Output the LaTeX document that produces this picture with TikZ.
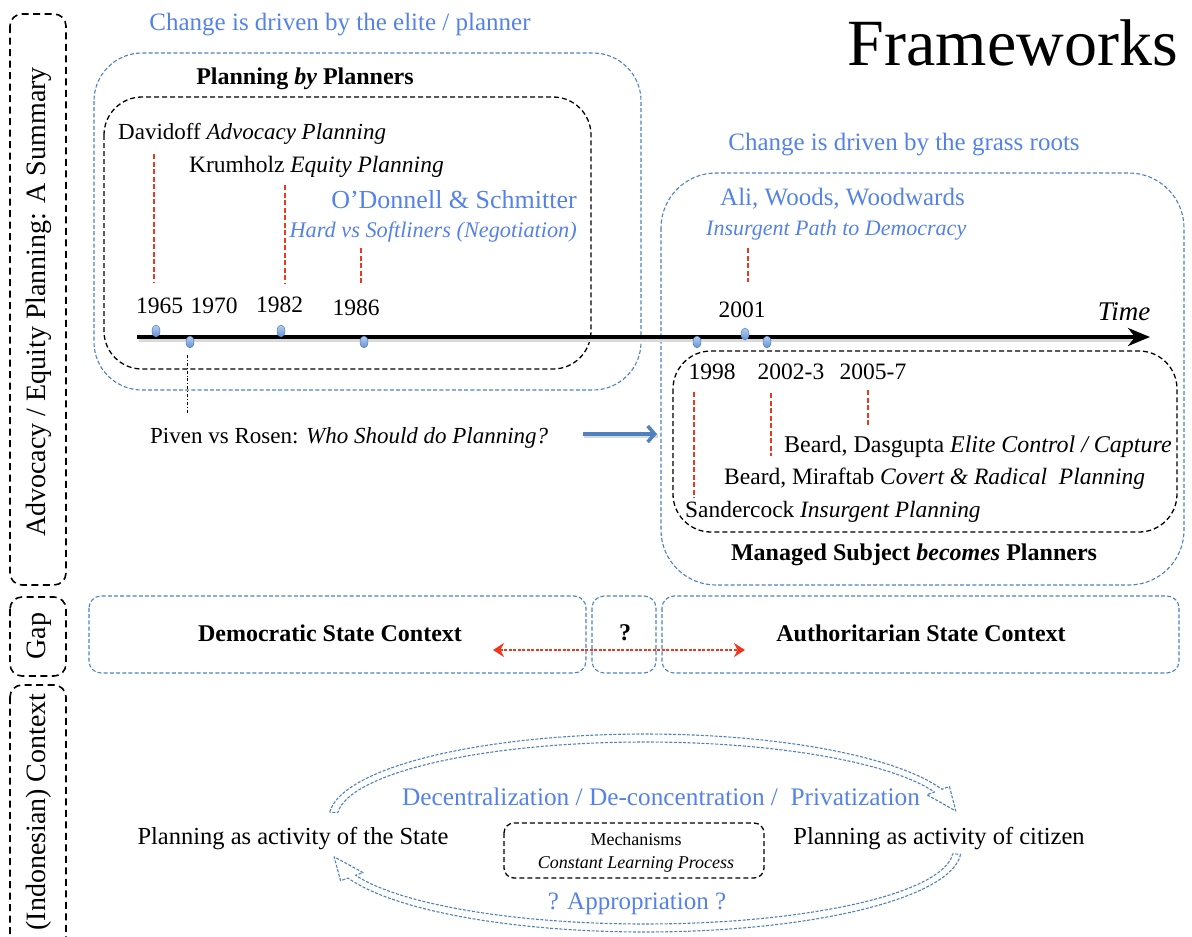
\documentclass[tikz,border=0pt]{standalone}
\usepackage{fontspec}
\setmainfont{Liberation Serif}
\usetikzlibrary{arrows.meta,shapes.geometric}

\definecolor{txtblue}{RGB}{84,130,232}
\definecolor{boxblue}{RGB}{79,129,189}
\definecolor{dotblue}{RGB}{100,145,215}
\definecolor{tickred}{RGB}{240,55,30}

\newcommand\fsz[1]{\fontsize{#1}{#1}\selectfont}

% hollow dashed arrow running along an elliptic arc
% #1,#2 centre  #3,#4 radii  #5 start angle  #6 end angle  #7 tip angle
% #8 half shaft width  #9 half head width
\newcommand\hollowarc[9]{%
  \draw[flowarrow]
    plot[domain=#5:#6, samples=70, variable=\t]
      ({#1+(#3+#8)*cos(\t)},{#2-(#4+#8)*sin(\t)})
    -- ({#1+(#3+#9)*cos(#6)},{#2-(#4+#9)*sin(#6)})
    -- ({#1+#3*cos(#7)},{#2-#4*sin(#7)})
    -- ({#1+(#3-#9)*cos(#6)},{#2-(#4-#9)*sin(#6)})
    -- plot[domain=#6:#5, samples=70, variable=\t]
      ({#1+(#3-#8)*cos(\t)},{#2-(#4-#8)*sin(\t)})
    -- cycle;}

\tikzset{
  txt/.style={inner sep=0pt, font=\fsz{23}},
  bluetxt/.style={inner sep=0pt, text=txtblue, font=\fsz{25}},
  bluebox/.style={draw=boxblue, line width=1.1pt, dash pattern=on 4pt off 2.2pt},
  blackbox/.style={draw=black, line width=1.3pt, dash pattern=on 5pt off 3pt},
  sidebox/.style={draw=black, line width=1.6pt, dash pattern=on 7pt off 4.5pt, rounded corners=12pt},
  sidelabel/.style={inner sep=0pt, rotate=90, font=\fsz{28}},
  redtick/.style={draw=tickred, line width=1.3pt, dash pattern=on 5pt off 2.5pt},
  yeardot/.style={ellipse, inner sep=0pt, minimum width=8pt, minimum height=12pt,
    draw=boxblue, line width=0.5pt, top color=dotblue!45!white, bottom color=dotblue},
  flowarrow/.style={draw=boxblue, line width=1.1pt, dash pattern=on 3pt off 1.6pt, line join=round},
  yeartxt/.style={inner sep=0pt, font=\fsz{23.5}},
}

\begin{document}
\begin{tikzpicture}[x=1pt,y=-1pt]
\useasboundingbox (0,0) rectangle (1192,937);

% ---------- side labels ----------
\draw[sidebox] (10,14) rectangle (66,585);
\node[sidelabel] (lblA) at (39,302) {Advocacy / Equity Planning: A Summary};
\draw[sidebox] (10,597) rectangle (66,676);
\node[sidelabel] (lblG) at (39,636) {Gap};
\begin{scope}
  \clip (0,0) rectangle (1192,937);
  \draw[sidebox] (10,685) rectangle (66,970);
\end{scope}
\node[sidelabel] (lblC) at (39,812) {(Indonesian) Context};

% ---------- title ----------
\node[inner sep=0pt, anchor=east, font=\fsz{66}] (title) at (1178,43) {Frameworks};

% ---------- planning by planners ----------
\node[bluetxt] (elite) at (340,25) {Change is driven by the elite / planner};
\draw[bluebox, rounded corners=48pt] (94,53) rectangle (641,390);
\draw[blackbox, rounded corners=38pt] (104,97) rectangle (591,369);
\node[txt, font=\fsz{24}\bfseries] (pbp) at (305,79) {Planning \textit{by} Planners};
\node[txt, anchor=west] (davidoff) at (118,134) {Davidoff \textit{Advocacy Planning}};
\node[txt, anchor=west, font=\fsz{23.5}] (krumholz) at (189,167) {Krumholz \textit{Equity Planning}};
\node[bluetxt, anchor=east, font=\fsz{26}] (odonnell) at (577,200) {O’Donnell \& Schmitter};
\node[bluetxt, anchor=east, font=\fsz{22.3}\itshape] (hardsoft) at (577,232) {Hard vs Softliners (Negotiation)};

\node[yeartxt] (y65) at (159.5,306) {1965};
\node[yeartxt] (y70) at (214,306) {1970};
\node[yeartxt] (y82) at (279.5,305) {1982};
\node[yeartxt] (y86) at (356,308) {1986};

% ---------- grass roots ----------
\node[bluetxt] (grass) at (904,145) {Change is driven by the grass roots};
\draw[bluebox, rounded corners=55pt] (661,173) rectangle (1184,585);
\node[bluetxt, anchor=west] (ali) at (720,199) {Ali, Woods, Woodwards};
\node[bluetxt, anchor=west, font=\fsz{22}\itshape] (ipd) at (706,230) {Insurgent Path to Democracy};
\node[yeartxt] (y01) at (742,310) {2001};
\node[inner sep=0pt, font=\fsz{27}\itshape] (time) at (1124,312) {Time};

\draw[blackbox, rounded corners=38pt] (673,351) rectangle (1177,532);
\node[yeartxt] (y98) at (712,372) {1998};
\node[yeartxt] (y02) at (791,372) {2002-3};
\node[yeartxt] (y05) at (873,372) {2005-7};
\node[txt, anchor=west, font=\fsz{24}] (dasgupta) at (784,447) {Beard, Dasgupta \textit{Elite Control / Capture}};
\node[txt, anchor=west, font=\fsz{23.5}] (miraftab) at (724,479) {Beard, Miraftab \textit{Covert \& Radical\ \ Planning}};
\node[txt, anchor=west, font=\fsz{23.4}] (sandercock) at (685,512) {Sandercock \textit{Insurgent Planning}};
\node[txt, font=\fsz{24}\bfseries] (managed) at (914,555) {Managed Subject \textit{becomes} Planners};

% ---------- red ticks ----------
\coordinate (r65a) at (154,154);  \coordinate (r65b) at (154,283);
\coordinate (r82a) at (285,185);  \coordinate (r82b) at (285,283);
\coordinate (r86a) at (361,248);  \coordinate (r86b) at (361,283);
\coordinate (r01a) at (748,248);  \coordinate (r01b) at (748,282);
\coordinate (r98a) at (694,392);  \coordinate (r98b) at (694,498);
\coordinate (r02a) at (771,393);  \coordinate (r02b) at (771,456);
\coordinate (r05a) at (868,390);  \coordinate (r05b) at (868,427);
\foreach \a/\b in {r65a/r65b, r82a/r82b, r86a/r86b, r01a/r01b, r98a/r98b, r02a/r02b, r05a/r05b}
  \draw[redtick] (\a) -- (\b);

% ---------- time axis ----------
\coordinate (t0) at (137,337);
\coordinate (t1) at (1150,337);
\coordinate (t1s) at (1130,337);
\draw[line width=4pt, black!15, transform canvas={shift={(1.5pt,-2.5pt)}}] (t0) -- (t1s);
\draw[line width=4.5pt, -{Stealth[length=22pt, width=18pt, inset=7pt]}] (t0) -- (t1);

\node[yeardot] (d65) at (156,331) {};
\node[yeardot] (d70) at (190,342) {};
\node[yeardot] (d82) at (281,331) {};
\node[yeardot] (d86) at (364,342) {};
\node[yeardot] (d98) at (697,342) {};
\node[yeardot] (d01) at (745,334) {};
\node[yeardot] (d02) at (767,342) {};

% Piven vs Rosen
\coordinate (pv0) at (187,355);
\coordinate (pv1) at (187,413);
\draw[line width=0.7pt, dash pattern=on 3pt off 2pt on 0.8pt off 2pt] (pv0) -- (pv1);
\node[txt, anchor=west] (piven) at (150,438) {Piven vs Rosen: \textit{Who Should do Planning?}};
\coordinate (pa0) at (583,434);
\coordinate (pa1) at (657,434);
\draw[line width=4pt, black!15, transform canvas={shift={(1pt,-2pt)}}] (pa0) -- (pa1);
\draw[boxblue, line width=3.5pt, -{Straight Barb[length=7pt, width=16pt]}] (pa0) -- (pa1);

% ---------- gap row ----------
\draw[bluebox, rounded corners=12pt] (89,596) rectangle (586,673);
\draw[bluebox, rounded corners=12pt] (592,596) rectangle (656,673);
\draw[bluebox, rounded corners=12pt] (662,596) rectangle (1179,673);
\node[txt, font=\fsz{24}\bfseries] (dem) at (330,633) {Democratic State Context};
\node[txt, font=\fsz{24}\bfseries] (gapq) at (625,633) {?};
\node[txt, font=\fsz{24}\bfseries] (auth) at (921,633) {Authoritarian State Context};
\coordinate (ra0) at (493,650);
\coordinate (ra1) at (745,650);
\draw[tickred, line width=1.6pt, dash pattern=on 3pt off 1.5pt,
  {Stealth[length=11pt, width=14pt]}-{Stealth[length=11pt, width=14pt]}] (ra0) -- (ra1);

% ---------- context cycle ----------
\hollowarc{645}{818}{312}{80}{176}{20}{5}{4}{12}
\hollowarc{645}{850}{312}{78}{-3}{-160}{-175}{4}{12}

\node[bluetxt, font=\fsz{25.3}] (decent) at (661,797) {Decentralization / De-concentration /\ \ Privatization};
\node[txt, font=\fsz{24.5}] (state) at (293,839) {Planning as activity of the State};
\node[txt, font=\fsz{24.5}] (citizen) at (939,839) {Planning as activity of citizen};
\draw[blackbox, rounded corners=10pt] (504,823) rectangle (764,878);
\node[txt, font=\fsz{18}] (mech) at (636,839) {Mechanisms};
\node[txt, font=\fsz{18}\itshape] (clp) at (636,864) {Constant Learning Process};
\node[bluetxt] (approp) at (637,904) {? Appropriation ?};

\end{tikzpicture}
\end{document}
